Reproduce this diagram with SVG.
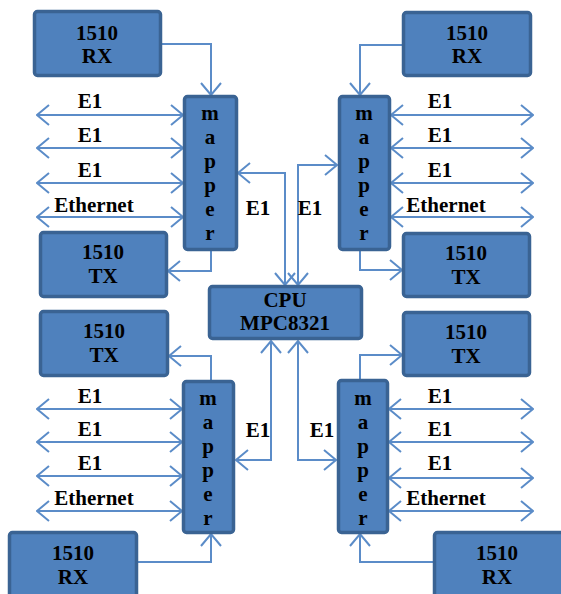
<svg xmlns="http://www.w3.org/2000/svg" width="561" height="594" viewBox="0 0 561 594" font-family="Liberation Serif, DejaVu Serif, Times New Roman, serif">
<style>
.box{fill:#4F81BD;stroke:#3A6393;stroke-width:3.5}
.t{font-weight:bold;font-size:21px;fill:#000;text-anchor:middle}
.ln{fill:none;stroke:#5B8CC8;stroke-width:2;marker-end:url(#ah)}
.dbl{marker-start:url(#ah)}
</style>
<defs>
<marker id="ah" viewBox="0 0 14 22" refX="13" refY="11" markerWidth="14" markerHeight="22" markerUnits="userSpaceOnUse" orient="auto-start-reverse">
<path d="M1,1 L13,11 L1,21" fill="none" stroke="#5B8CC8" stroke-width="2"/>
</marker>
</defs>
<rect width="561" height="594" fill="#fff"/>
<g id="connectors">
<path class="ln" d="M162,44 H211 V95"/>
<path class="ln" d="M211,251 V271 H168"/>
<path class="ln dbl" d="M37,115 H183"/>
<path class="ln dbl" d="M37,148 H183"/>
<path class="ln dbl" d="M37,183 H183"/>
<path class="ln dbl" d="M37,217 H183"/>
<path class="ln dbl" d="M238,173 H285 V285"/>
<path class="ln dbl" d="M298,285 V165 H337"/>
<path class="ln" d="M402,45 H360 V95"/>
<path class="ln" d="M360,251 V270 H402"/>
<path class="ln dbl" d="M391,115 H533"/>
<path class="ln dbl" d="M391,148 H533"/>
<path class="ln dbl" d="M391,183 H533"/>
<path class="ln dbl" d="M391,217 H533"/>
<path class="ln" d="M211,380 V356 H169"/>
<path class="ln dbl" d="M37,409 H182"/>
<path class="ln dbl" d="M37,442 H182"/>
<path class="ln dbl" d="M37,476 H182"/>
<path class="ln dbl" d="M37,511 H182"/>
<path class="ln" d="M138,562 H211 V534"/>
<path class="ln dbl" d="M236,460 H271 V341"/>
<path class="ln" d="M360,379 V355 H402"/>
<path class="ln dbl" d="M389,409 H533"/>
<path class="ln dbl" d="M389,442 H533"/>
<path class="ln dbl" d="M389,478 H533"/>
<path class="ln dbl" d="M389,511 H533"/>
<path class="ln" d="M433,562 H360 V534"/>
<path class="ln dbl" d="M298,341 V460 H336"/>
</g>
<g id="labels">
<text class="t" x="90" y="108">E1</text>
<text class="t" x="90" y="142">E1</text>
<text class="t" x="90" y="177">E1</text>
<text class="t" x="94" y="212">Ethernet</text>
<text class="t" x="440" y="108">E1</text>
<text class="t" x="440" y="142">E1</text>
<text class="t" x="440" y="177">E1</text>
<text class="t" x="446" y="212">Ethernet</text>
<text class="t" x="90" y="403">E1</text>
<text class="t" x="90" y="436">E1</text>
<text class="t" x="90" y="470">E1</text>
<text class="t" x="94" y="505">Ethernet</text>
<text class="t" x="440" y="403">E1</text>
<text class="t" x="440" y="436">E1</text>
<text class="t" x="440" y="470">E1</text>
<text class="t" x="446" y="505">Ethernet</text>
<text class="t" x="258" y="215">E1</text>
<text class="t" x="310" y="215">E1</text>
<text class="t" x="258" y="437">E1</text>
<text class="t" x="322" y="437">E1</text>
</g>
<g id="rx-tl"><rect class="box" x="34.5" y="11.5" width="126" height="64" rx="3"/><text class="t" x="97" y="40">1510</text><text class="t" x="97" y="63">RX</text></g>
<g id="tx-tl"><rect class="box" x="40.5" y="232.5" width="126" height="64" rx="3"/><text class="t" x="103" y="259">1510</text><text class="t" x="103" y="283">TX</text></g>
<g id="mapper-tl"><rect class="box" x="184.5" y="96.5" width="52" height="153" rx="3"/><text class="t" x="210" y="120">m<tspan x="210" dy="24">a</tspan><tspan x="210" dy="24">p</tspan><tspan x="210" dy="24">p</tspan><tspan x="210" dy="24">e</tspan><tspan x="210" dy="24">r</tspan></text></g>
<g id="rx-tr"><rect class="box" x="403.5" y="12.5" width="127" height="63" rx="3"/><text class="t" x="467" y="40">1510</text><text class="t" x="467" y="63">RX</text></g>
<g id="mapper-tr"><rect class="box" x="339.5" y="96.5" width="50" height="153" rx="3"/><text class="t" x="364" y="120">m<tspan x="364" dy="24">a</tspan><tspan x="364" dy="24">p</tspan><tspan x="364" dy="24">p</tspan><tspan x="364" dy="24">e</tspan><tspan x="364" dy="24">r</tspan></text></g>
<g id="tx-tr"><rect class="box" x="403.5" y="233.5" width="126" height="63" rx="3"/><text class="t" x="466" y="260">1510</text><text class="t" x="466" y="284">TX</text></g>
<g id="cpu"><rect class="box" x="209.5" y="286.5" width="152" height="52" rx="3"/><text class="t" x="285" y="307">CPU</text><text class="t" x="285" y="330">MPC8321</text></g>
<g id="tx-bl"><rect class="box" x="40.5" y="311.5" width="127" height="64" rx="3"/><text class="t" x="104" y="338">1510</text><text class="t" x="104" y="362">TX</text></g>
<g id="mapper-bl"><rect class="box" x="183.5" y="381.5" width="50" height="151" rx="3"/><text class="t" x="208" y="405">m<tspan x="208" dy="24">a</tspan><tspan x="208" dy="24">p</tspan><tspan x="208" dy="24">p</tspan><tspan x="208" dy="24">e</tspan><tspan x="208" dy="24">r</tspan></text></g>
<g id="rx-bl"><rect class="box" x="9.5" y="532.5" width="127" height="70" rx="3"/><text class="t" x="73" y="560">1510</text><text class="t" x="73" y="584">RX</text></g>
<g id="tx-br"><rect class="box" x="403.5" y="312.5" width="126" height="63" rx="3"/><text class="t" x="466" y="339">1510</text><text class="t" x="466" y="363">TX</text></g>
<g id="mapper-br"><rect class="box" x="338.5" y="380.5" width="49" height="152" rx="3"/><text class="t" x="363" y="405">m<tspan x="363" dy="24">a</tspan><tspan x="363" dy="24">p</tspan><tspan x="363" dy="24">p</tspan><tspan x="363" dy="24">e</tspan><tspan x="363" dy="24">r</tspan></text></g>
<g id="rx-br"><rect class="box" x="434.5" y="532.5" width="132" height="70" rx="3"/><text class="t" x="497" y="560">1510</text><text class="t" x="497" y="584">RX</text></g>
</svg>
